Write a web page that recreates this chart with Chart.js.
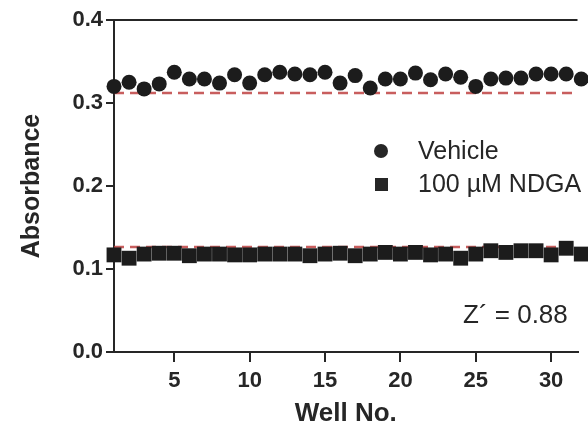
<!DOCTYPE html>
<html>
<head>
<meta charset="utf-8">
<script src="https://cdn.jsdelivr.net/npm/chart.js@4/dist/chart.umd.min.js"></script>
<style>
  html, body { margin: 0; padding: 0; background: #fff; }
  canvas { display: block; }
</style>
</head>
<body>
<canvas id="zprime" width="588" height="429"></canvas>
<script>
// well numbers (x) and absorbance readings
const wells = [1, 2, 3, 4, 5, 6, 7, 8, 9, 10, 11, 12, 13, 14, 15, 16,
               17, 18, 19, 20, 21, 22, 23, 24, 25, 26, 27, 28, 29, 30, 31, 32];
const vehicle = [0.320, 0.325, 0.317, 0.323, 0.337, 0.329, 0.329, 0.324, 0.334, 0.324, 0.334, 0.337, 0.335, 0.334, 0.337, 0.324,
                 0.333, 0.318, 0.329, 0.329, 0.336, 0.328, 0.335, 0.331, 0.320, 0.329, 0.330, 0.330, 0.335, 0.335, 0.335, 0.329];
const ndga = [0.117, 0.113, 0.118, 0.119, 0.119, 0.116, 0.118, 0.118, 0.117, 0.117, 0.118, 0.118, 0.118, 0.116, 0.118, 0.119,
              0.116, 0.118, 0.120, 0.118, 0.120, 0.117, 0.118, 0.113, 0.118, 0.122, 0.120, 0.122, 0.122, 0.117, 0.125, 0.118];
// dashed cut-off lines (mean - 3SD / mean + 3SD)
const vehicleCutoff = 0.312;
const ndgaCutoff = 0.1265;
const xTicks = [5, 10, 15, 20, 25, 30];
const yTicks = [0.0, 0.1, 0.2, 0.3, 0.4];
const xRange = [1, 31.75];
const legendLabels = ['Vehicle', '100 \u00b5M NDGA'];
const zText = 'Z\u00b4 = 0.88';

const ink = '#262626';
const dashRed = 'rgba(190, 66, 66, 0.85)';
const font = '"Liberation Sans", Arial, sans-serif';

const toPoints = vals => wells.map((w, i) => ({ x: w, y: vals[i] }));
const cutLine = v => [{ x: xRange[0], y: v }, { x: xRange[1], y: v }];

// legend and Z' text placed inside the plot
const annotations = {
  id: 'annotations',
  afterDatasetsDraw(chart) {
    const ctx = chart.ctx;
    ctx.save();
    ctx.fillStyle = ink;
    ctx.font = '25px ' + font;
    ctx.textBaseline = 'middle';
    ctx.beginPath();
    ctx.arc(381, 151, 7, 0, Math.PI * 2);
    ctx.fill();
    ctx.fillRect(375, 178, 13, 13);
    ctx.fillText(legendLabels[0], 418, 152);
    ctx.fillText(legendLabels[1], 418, 185);
    ctx.font = '26px ' + font;
    ctx.fillText(zText, 463, 316);
    ctx.restore();
  }
};

new Chart(document.getElementById('zprime'), {
  type: 'scatter',
  data: {
    datasets: [{
      label: legendLabels[0],
      data: toPoints(vehicle),
      pointStyle: 'circle',
      pointRadius: 7.5,
      backgroundColor: '#1c1c1c',
      borderColor: '#1c1c1c',
      borderWidth: 0,
      clip: false,
      order: 1
    }, {
      label: legendLabels[1],
      data: toPoints(ndga),
      pointStyle: 'rect',
      pointRadius: 10.5,
      backgroundColor: '#1c1c1c',
      borderColor: '#1c1c1c',
      borderWidth: 0,
      clip: false,
      order: 1
    }, {
      type: 'line',
      data: cutLine(vehicleCutoff),
      borderColor: dashRed,
      borderWidth: 2.5,
      borderDash: [10, 6],
      pointRadius: 0,
      order: 2
    }, {
      type: 'line',
      data: cutLine(ndgaCutoff),
      borderColor: dashRed,
      borderWidth: 2.5,
      borderDash: [10, 6],
      pointRadius: 0,
      order: 2
    }]
  },
  options: {
    responsive: false,
    animation: false,
    layout: { padding: { top: 20, left: 0, right: 0, bottom: 0 } },
    plugins: { legend: { display: false }, tooltip: { enabled: false } },
    scales: {
      x: {
        type: 'linear',
        min: xRange[0],
        max: xRange[1],
        afterBuildTicks: s => { s.ticks = xTicks.map(v => ({ value: v })); },
        afterFit: s => { s.height = 77; },
        border: { display: true, color: ink, width: 2 },
        grid: { drawOnChartArea: false, tickColor: ink, tickLength: 10, lineWidth: 2 },
        ticks: { color: ink, padding: 6, font: { family: font, size: 22, weight: 'bold' } },
        title: {
          display: true, text: 'Well No.', color: ink,
          padding: { top: 0, bottom: 0 },
          font: { family: font, size: 26, weight: 'bold' }
        }
      },
      y: {
        min: 0,
        max: 0.4,
        afterBuildTicks: s => { s.ticks = yTicks.map(v => ({ value: v })); },
        afterFit: s => { s.width = 114; },
        border: { display: true, color: ink, width: 2 },
        grid: {
          color: c => (c.tick && c.tick.value === 0.4 ? ink : 'rgba(0,0,0,0)'),
          tickColor: ink, tickLength: 8, lineWidth: 2
        },
        ticks: {
          color: ink, padding: 3,
          font: { family: font, size: 22, weight: 'bold' },
          callback: v => v.toFixed(1)
        },
        title: {
          display: true, text: 'Absorbance', color: ink,
          padding: { top: 17, bottom: 0 },
          font: { family: font, size: 25, weight: 'bold' }
        }
      }
    }
  },
  plugins: [annotations]
});
</script>
</body>
</html>
